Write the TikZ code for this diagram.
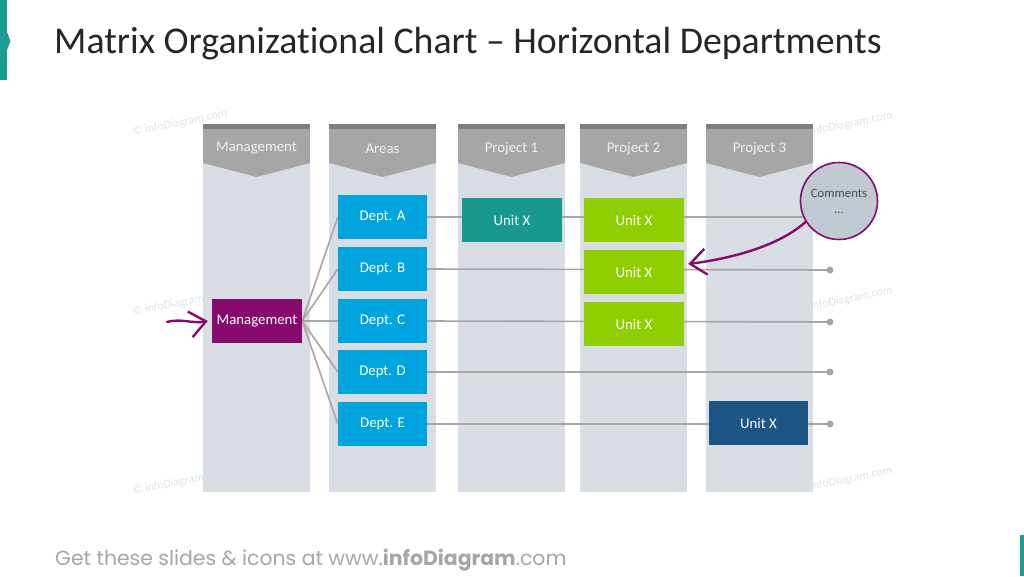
\documentclass[tikz,border=0pt]{standalone}
\usepackage{fontspec}
\setmainfont{Carlito}[Ligatures=NoCommon]
\newfontfamily\footfont{Poppins}
\usetikzlibrary{arrows.meta,positioning}

\definecolor{accentteal}{HTML}{1A9B94}
\definecolor{colbody}{HTML}{D9DEE4}
\definecolor{colhead}{HTML}{A6A6A6}
\definecolor{coltop}{HTML}{7F7F7F}
\definecolor{mgmtpurple}{HTML}{860B6C}
\definecolor{deptblue}{HTML}{00A5DF}
\definecolor{unitteal}{HTML}{17998F}
\definecolor{unitgreen}{HTML}{8FCE00}
\definecolor{unitnavy}{HTML}{1C5583}
\definecolor{linkgray}{HTML}{A6A6A6}
\definecolor{commfill}{HTML}{C1CAD3}
\definecolor{wmgray}{HTML}{DCE3EC}

\pgfdeclarelayer{colbg}
\pgfdeclarelayer{links}
\pgfsetlayers{colbg,links,main}

\tikzset{
  box/.style={minimum height=44pt, inner sep=0pt, text=white,
    font=\fontsize{14.8}{17}\selectfont},
  dept/.style={box, fill=deptblue, minimum width=89pt},
  unit/.style={box, minimum width=100pt},
  link/.style={draw=linkgray, line width=1.6pt},
  enddot/.style={fill=linkgray},
  handarrow/.style={draw=mgmtpurple, line width=2.4pt, line cap=round,
    -{Straight Barb[length=16pt,width=26pt,line width=2.4pt]}},
  wmark/.style={text=wmgray, font=\fontsize{12}{14}\selectfont, rotate=11}
}

\begin{document}
\begin{tikzpicture}[x=1pt,y=-1pt]
    \useasboundingbox (0,0) rectangle (1024,576);

    % accent bars
    \fill[accentteal] (0,0) rectangle (7,80);
    \fill[accentteal] (7,32) -- (10.5,41) -- (7,50) -- cycle;
    \fill[accentteal] (1020,535) rectangle (1024,576);

    % title and footer
    \node[anchor=base west, inner sep=0pt, text=black!85,
      font=\fontsize{37.8}{42}\selectfont] (title) at (54,53.5)
      {Matrix Organizational Chart – Horizontal Departments};
    \node[anchor=base west, inner sep=0pt, text=black!35,
      font=\footfont\fontsize{20.4}{24}\selectfont] (foot) at (55,565)
      {Get these slides \& icons at www.{\bfseries infoDiagram}.com};

    % columns
    \begin{pgfonlayer}{colbg}
    \node[wmark] (wm1) at (180,123) {© infoDiagram.com};
    \node[wmark] (wm2) at (845,125) {© infoDiagram.com};
    \node[wmark] (wm3) at (180,303) {© infoDiagram.com};
    \node[wmark] (wm4) at (845,300) {© infoDiagram.com};
    \node[wmark] (wm5) at (180,482) {© infoDiagram.com};
    \node[wmark] (wm6) at (845,480) {© infoDiagram.com};
    \foreach \xa/\lbl [count=\i] in {203/Management, 329/Areas,
        458/Project 1, 580/Project 2, 706/Project 3} {
      \fill[colbody] (\xa,124) rectangle ++(107,368);
      \fill[colhead] (\xa,129) -- ++(107,0) -- ++(0,34) -- ++(-53.5,14)
        -- ++(-53.5,-14) -- cycle;
      \fill[coltop] (\xa,124) rectangle ++(107,5);
      \node[text=white!95!black, font=\fontsize{14.8}{17}\selectfont]
        (head\i) at (\xa+53.5,148.5) {\lbl};
    }
    \end{pgfonlayer}

    % boxes
    \node[box, fill=mgmtpurple, minimum width=90pt] (mgmt) at (257,321) {Management};
    \node[dept] (deptA) at (382.5,217) {Dept. A};
    \node[dept] (deptB) at (382.5,269) {Dept. B};
    \node[dept] (deptC) at (382.5,321) {Dept. C};
    \node[dept] (deptD) at (382.5,372) {Dept. D};
    \node[dept] (deptE) at (382.5,424) {Dept. E};
    \node[unit, fill=unitteal] (unitP1) at (512,220) {Unit X};
    \node[unit, fill=unitgreen] (unitP2a) at (634,220) {Unit X};
    \node[unit, fill=unitgreen] (unitP2b) at (634,272) {Unit X};
    \node[unit, fill=unitgreen] (unitP2c) at (634,324) {Unit X};
    \node[unit, fill=unitnavy, minimum width=99pt] (unitP3) at (758.5,423) {Unit X};
    \node[circle, draw=mgmtpurple, line width=1.6pt, fill=commfill,
      minimum size=77pt, inner sep=0pt, align=center, text=black!70,
      font=\fontsize{12.8}{15}\selectfont] (comm) at (839,201)
      {Comments\\[1pt]...};

    \coordinate (endB) at (830,270);
    \coordinate (endC) at (830,322);
    \coordinate (endD) at (830,372);
    \coordinate (endE) at (830,424);
    \coordinate (inArrow) at (167,322);

    % connectors
    \begin{pgfonlayer}{links}
    \foreach \d in {A,B,C,D,E}
      \draw[link] (mgmt.east) -- (dept\d.west);
    \draw[link] (deptA.east) -- (deptA.east -| comm.center);
    \draw[link] (deptB.east) -- (endB);
    \draw[link] (deptC.east) -- (endC);
    \draw[link] (deptD.east) -- (endD);
    \draw[link] (deptE.east) -- (endE);
    \foreach \e in {B,C,D,E}
      \fill[enddot] (end\e) circle (3.5);
    \end{pgfonlayer}

    \draw[handarrow] (comm.212) .. controls (780,245) and (735,258)
      .. ([xshift=4pt,yshift=8pt]unitP2b.east);
    \draw[handarrow] (inArrow) .. controls (182,318) and (192,324)
      .. ([xshift=-4pt]mgmt.west);
\end{tikzpicture}
\end{document}
